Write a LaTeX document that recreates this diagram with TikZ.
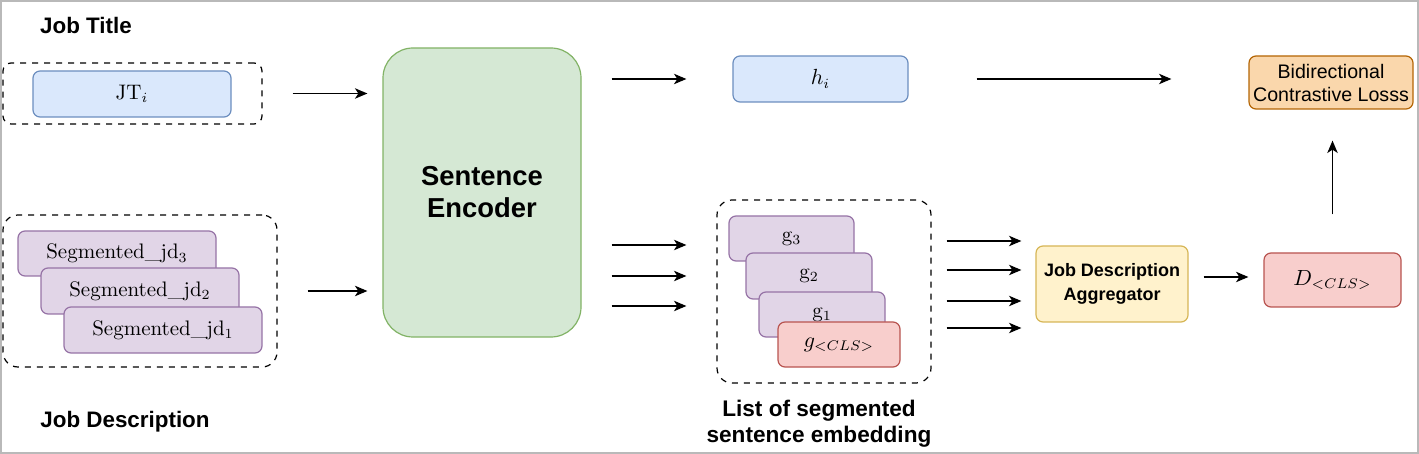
\documentclass[tikz,border=0pt]{standalone}
\usepackage{fontspec}
\newfontfamily\sansf{Liberation Sans}
\usetikzlibrary{arrows.meta,calc}
\definecolor{bluef}{HTML}{DAE8FC}\definecolor{blued}{HTML}{6C8EBF}
\definecolor{greenf}{HTML}{D5E8D4}\definecolor{greend}{HTML}{82B366}
\definecolor{purpf}{HTML}{E1D5E7}\definecolor{purpd}{HTML}{9673A6}
\definecolor{redf}{HTML}{F8CECC}\definecolor{redd}{HTML}{B85450}
\definecolor{yellf}{HTML}{FFF2CC}\definecolor{yelld}{HTML}{D6B656}
\definecolor{orf}{HTML}{FAD7AC}\definecolor{ord}{HTML}{B46504}
\begin{document}
\begin{tikzpicture}[x=0.5pt,y=-0.5pt,
  box/.style={rectangle,rounded corners=3.5pt,line width=0.6pt,inner sep=0pt,font=\fontsize{10.5}{12}\selectfont},
  bluebox/.style={box,fill=bluef,draw=blued},
  purpbox/.style={box,fill=purpf,draw=purpd},
  redbox/.style={box,fill=redf,draw=redd},
  groupbox/.style={rectangle,draw=black,dashed,line width=0.6pt,inner sep=0pt},
  boldlbl/.style={font=\sansf\bfseries\fontsize{11.2}{13}\selectfont,align=center,inner sep=0pt},
  arr/.style={-{Stealth[length=6.2pt,width=5.2pt,inset=1.7pt]},line width=0.7pt,black}
]
\useasboundingbox (0,0) rectangle (1419,454);
\draw[gray!55,line width=1.2pt] (1,1) rectangle (1418,453);

% labels
\node[boldlbl] (jobtitle) at (86,25) {Job Title};
\node[boldlbl] (jobdesc) at (125,422) {Job Description};
\node[boldlbl,font=\sansf\bfseries\fontsize{11.3}{13.2}\selectfont] (listlbl) at (819,424) {List of segmented\\sentence embedding};

% job title group
\node[groupbox,rounded corners=4pt,minimum width=129.5pt,minimum height=30.5pt] (jtbox) at (132.5,93.5) {};
\node[bluebox,minimum width=99pt,minimum height=23pt] (jt) at (132,94) {JT$_i$};

% job description group
\node[groupbox,rounded corners=7.5pt,minimum width=137pt,minimum height=76pt] (jdbox) at (140,291) {};
\node[purpbox,minimum width=99pt,minimum height=22.5pt] (seg3) at (117,253.5) {Segmented\_jd$_3$};
\node[purpbox,minimum width=99pt,minimum height=23pt] (seg2) at (140,291) {Segmented\_jd$_2$};
\node[purpbox,minimum width=99pt,minimum height=23pt] (seg1) at (163,330) {Segmented\_jd$_1$};

% encoder
\node[rectangle,rounded corners=15pt,fill=greenf,draw=greend,line width=0.6pt,minimum width=99pt,minimum height=144.5pt,
  font=\sansf\bfseries\fontsize{13.7}{16}\selectfont,align=center] (enc) at (482,192.5) {Sentence\\Encoder};

% h_i
\node[bluebox,minimum width=87.5pt,minimum height=23pt] (h) at (820.5,79) {$h_i$};

% loss
\node[box,fill=orf,draw=ord,minimum width=82pt,minimum height=26.5pt,font=\sansf\fontsize{9.8}{11.5}\selectfont,align=center] (loss) at (1331,82.5) {Bidirectional\\Contrastive Losss};

% list group
\node[groupbox,rounded corners=7.5pt,minimum width=107pt,minimum height=91.5pt] (listbox) at (824,291.5) {};
\node[purpbox,minimum width=62.5pt,minimum height=22.5pt] (g3) at (791.5,238.5) {g$_3$};
\node[purpbox,minimum width=63pt,minimum height=23pt] (g2) at (809,276) {g$_2$};
\node[purpbox,minimum width=63pt,minimum height=22.5pt] (g1) at (822,314.5) {g$_1$};
\node[redbox,minimum width=61pt,minimum height=22.5pt] (gcls) at (839,344.5) {$g_{<CLS>}$};

% aggregator
\node[box,fill=yellf,draw=yelld,minimum width=76pt,minimum height=38pt,font=\sansf\bfseries\fontsize{9}{12}\selectfont,align=center] (agg) at (1112,284) {Job Description\\Aggregator};

% D
\node[redbox,minimum width=68.5pt,minimum height=27pt] (D) at (1332.5,280) {$D_{<CLS>}$};

% connectors
\draw[arr,shorten <=15pt,shorten >=7.5pt] (jtbox.east) -- (jtbox.east -| enc.west);
\draw[arr,shorten <=15pt,shorten >=7.5pt] (jdbox.east) -- (jdbox.east -| enc.west);
\draw[arr,shorten <=15pt,shorten >=23pt] (enc.east |- h.west) -- (h.west);
\draw[arr,shorten <=34pt,shorten >=38.5pt] (h.east) -- (h.east -| loss.west);
\foreach \dy [count=\i] in {-46.5,-15.5,14.5}{
  \path ($(listbox.west)+(0,\dy)$) coordinate (li\i);
  \draw[arr,shorten <=15pt,shorten >=15pt] (li\i -| enc.east) -- (li\i);
}
\foreach \dy [count=\i] in {-43,-14,17,44}{
  \path ($(agg.west)+(0,\dy)$) coordinate (ai\i);
  \draw[arr,shorten <=7.5pt,shorten >=7pt] (ai\i -| listbox.east) -- (ai\i);
}
\path ($(agg.east)+(0,-7)$) coordinate (ao);
\draw[arr,shorten <=7.5pt,shorten >=7.5pt] (ao) -- (ao -| D.west);
\draw[arr,shorten <=19pt,shorten >=15.5pt] (D.north) -- (D.north |- loss.south);
\end{tikzpicture}
\end{document}
